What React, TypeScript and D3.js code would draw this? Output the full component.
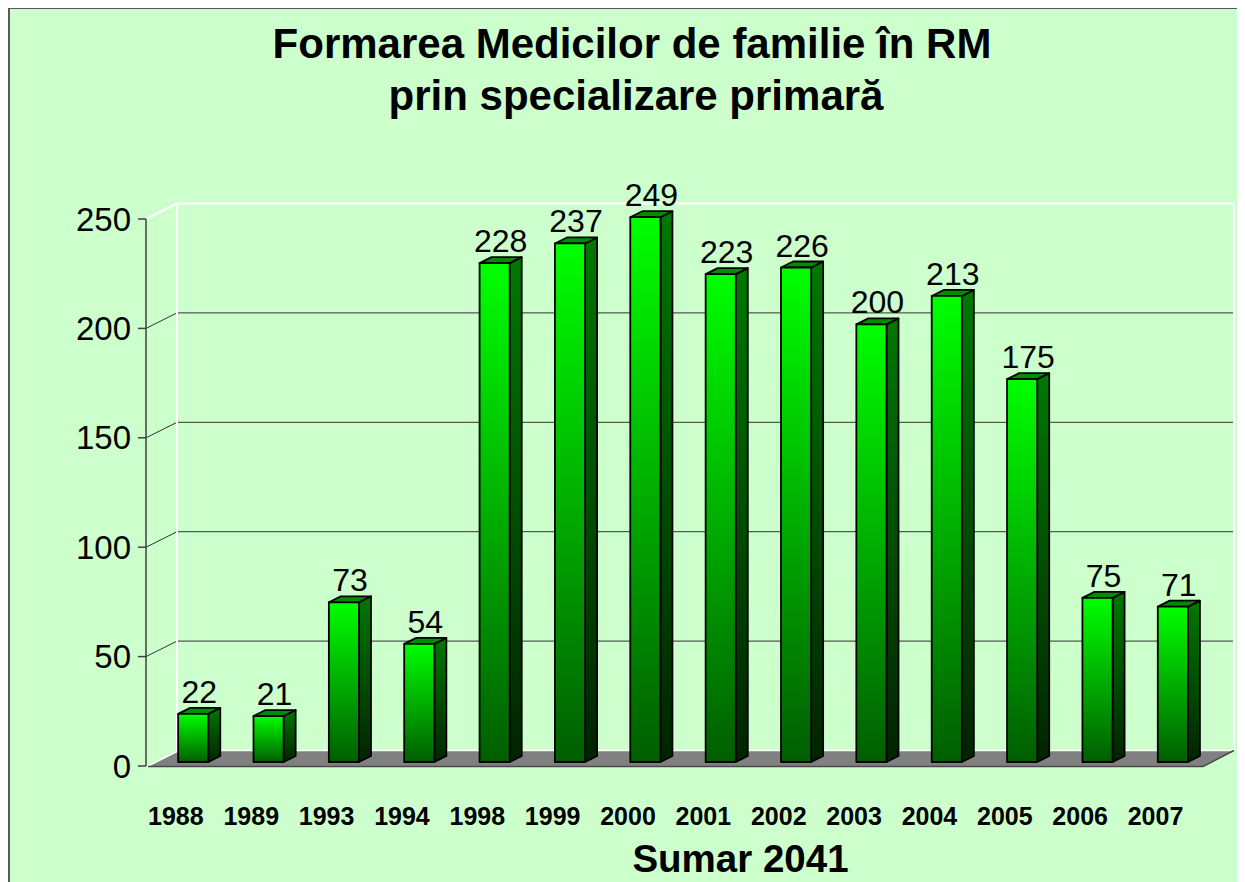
import React from "react";
import * as d3 from "d3";

const years = ["1988", "1989", "1993", "1994", "1998", "1999", "2000", "2001", "2002", "2003", "2004", "2005", "2006", "2007"];
const values = [22, 21, 73, 54, 228, 237, 249, 223, 226, 200, 213, 175, 75, 71];
const yTicks = [0, 50, 100, 150, 200, 250];
const titleLines = ["Formarea Medicilor de familie în RM", "prin specializare primară"];
const xTitle = "Sumar 2041";

const W = 1237;
const H = 874;
const FONT = "'Liberation Sans', Arial, Helvetica, sans-serif";

// 3D geometry (page coordinates)
const DX = 31; // depth x offset front -> back wall
const DY = -15.5; // depth y offset
const BAR_SHIFT_Y = -4;
const BAR_DX = 12;
const BAR_DY = -6;

export default function App() {
  const x = d3.scaleBand<string>().domain(years).range([148, 1203]).padding(0);
  const y = d3.scaleLinear().domain([0, 250]).range([766, 219]);
  const bw = x.bandwidth();
  const barW = bw * 0.4;
  const barOff = bw * 0.4; // offset of bar front face inside band

  const axisX = 146;
  const x0 = x.range()[0];
  const x1 = x.range()[1];

  return (
    <svg width={W} height={H} style={{ display: "block", overflow: "visible" }}>
      <style>{`html{overflow:hidden}`}</style>
      <defs>
        <linearGradient id="front" x1="0" y1="0" x2="0" y2="1">
          <stop offset="0%" stopColor="#00FF00" />
          <stop offset="100%" stopColor="#005E00" />
        </linearGradient>
        <linearGradient id="side" x1="0" y1="0" x2="0" y2="1">
          <stop offset="0%" stopColor="#007800" />
          <stop offset="100%" stopColor="#002400" />
        </linearGradient>
      </defs>
      <g transform="translate(-8,-8)">
        {/* background + frame */}
        <rect x={9} y={8} width={W + 20} height={H + 20} fill="#CCFFCC" stroke="#5A5A5A" strokeWidth={2} />

        {/* gridlines on back wall */}
        {yTicks
          .filter((t) => t > 0 && t < 250)
          .map((t) => (
            <g key={"g" + t}>
              <line x1={axisX} y1={y(t)} x2={x0 + DX - 2} y2={y(t) + DY} stroke="#333" strokeWidth={1} />
              <line x1={x0 + DX - 2} y1={y(t) + DY} x2={x1 + DX} y2={y(t) + DY} stroke="#333" strokeWidth={1} />
            </g>
          ))}
        {/* back wall edges (white) */}
        <line x1={axisX} y1={y(250)} x2={x0 + DX - 2} y2={y(250) + DY} stroke="#FFFFFF" strokeWidth={2} />
        <line x1={x0 + DX - 2} y1={y(250) + DY} x2={x1 + DX} y2={y(250) + DY} stroke="#FFFFFF" strokeWidth={2} />
        <line x1={x0 + DX - 2} y1={y(250) + DY} x2={x0 + DX - 2} y2={y(0) + DY} stroke="#FFFFFF" strokeWidth={2} />
        <line x1={x1 + DX} y1={y(250) + DY} x2={x1 + DX} y2={y(0) + DY + 1} stroke="#FFFFFF" strokeWidth={2} />

        {/* floor */}
        <polygon
          points={`${x0},${y(0)} ${x1},${y(0)} ${x1 + DX},${y(0) + DY} ${x0 + DX},${y(0) + DY}`}
          fill="#808080"
        />
        <line x1={x0} y1={y(0)} x2={x0 + DX} y2={y(0) + DY} stroke="#FFFFFF" strokeWidth={1.5} />
        <line x1={x0 + DX} y1={y(0) + DY} x2={x1 + DX} y2={y(0) + DY} stroke="#FFFFFF" strokeWidth={1.5} />
        <line x1={x0} y1={y(0) + 0.5} x2={x1} y2={y(0) + 0.5} stroke="#4A4A4A" strokeWidth={1.5} />
        <line x1={x1} y1={y(0) + 0.5} x2={x1 + DX} y2={y(0) + DY} stroke="#4A4A4A" strokeWidth={1.5} />

        {/* y axis */}
        <line x1={axisX} y1={y(250)} x2={axisX} y2={y(0)} stroke="#404040" strokeWidth={1.5} />
        {yTicks.map((t) => (
          <g key={"t" + t}>
            <line x1={axisX - 8} y1={y(t)} x2={axisX} y2={y(t)} stroke="#404040" strokeWidth={1.5} />
            <text
              x={131}
              y={y(t)}
              textAnchor="end"
              dominantBaseline="central"
              fontFamily={FONT}
              fontSize={33}
              fill="#000"
            >
              {t}
            </text>
          </g>
        ))}

        {/* bars */}
        {years.map((yr, i) => {
          const v = values[i];
          const bx = (x(yr) as number) + barOff;
          const by0 = y(0) + BAR_SHIFT_Y;
          const byT = y(v) + BAR_SHIFT_Y;
          const h = by0 - byT;
          return (
            <g key={yr} stroke="#000" strokeWidth={1.8} strokeLinejoin="round">
              <polygon
                points={`${bx + barW},${byT} ${bx + barW + BAR_DX},${byT + BAR_DY} ${bx + barW + BAR_DX},${by0 + BAR_DY} ${bx + barW},${by0}`}
                fill="url(#side)"
              />
              <polygon
                points={`${bx},${byT} ${bx + barW},${byT} ${bx + barW + BAR_DX},${byT + BAR_DY} ${bx + BAR_DX},${byT + BAR_DY}`}
                fill="#008C00"
              />
              <rect x={bx} y={byT} width={barW} height={h} fill="url(#front)" />
            </g>
          );
        })}

        {/* value labels */}
        {years.map((yr, i) => {
          const v = values[i];
          const bx = (x(yr) as number) + barOff;
          return (
            <text
              key={"v" + yr}
              x={bx + (barW + BAR_DX) / 2}
              y={y(v) + BAR_SHIFT_Y + BAR_DY - 5}
              textAnchor="middle"
              fontFamily={FONT}
              fontSize={32}
              fill="#000"
            >
              {v}
            </text>
          );
        })}

        {/* category labels */}
        {years.map((yr) => (
          <text
            key={"x" + yr}
            x={(x(yr) as number) + bw * 0.37}
            y={825}
            textAnchor="middle"
            fontFamily={FONT}
            fontWeight="bold"
            fontSize={25}
            fill="#000"
          >
            {yr}
          </text>
        ))}

        {/* titles */}
        <text x={632} y={58} textAnchor="middle" fontFamily={FONT} fontWeight="bold" fontSize={42} fill="#000">
          {titleLines[0]}
        </text>
        <text x={636} y={110} textAnchor="middle" fontFamily={FONT} fontWeight="bold" fontSize={42} fill="#000">
          {titleLines[1]}
        </text>
        <text x={740.5} y={872} textAnchor="middle" fontFamily={FONT} fontWeight="bold" fontSize={38.5} fill="#000">
          {xTitle}
        </text>
      </g>
    </svg>
  );
}
